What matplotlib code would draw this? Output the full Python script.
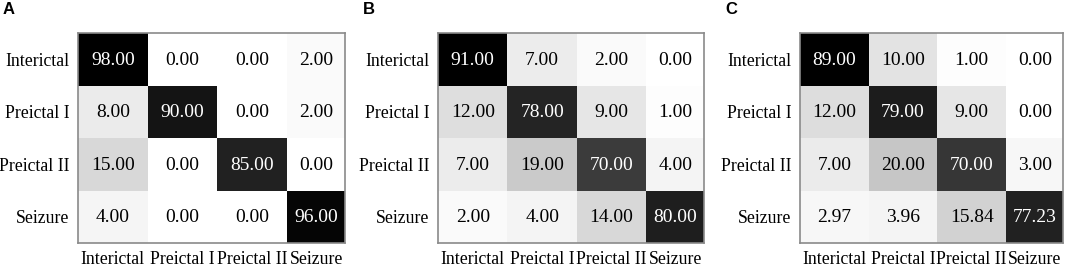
import matplotlib.pyplot as plt
import numpy as np

plt.rcParams["font.family"] = ["Liberation Serif", "DejaVu Serif"]

classes = ["Interictal", "Preictal I", "Preictal II", "Seizure"]
panel_labels = ["A", "B", "C"]

cm_a = np.array([
    [98.00, 0.00, 0.00, 2.00],
    [8.00, 90.00, 0.00, 2.00],
    [15.00, 0.00, 85.00, 0.00],
    [4.00, 0.00, 0.00, 96.00],
])
cm_b = np.array([
    [91.00, 7.00, 2.00, 0.00],
    [12.00, 78.00, 9.00, 1.00],
    [7.00, 19.00, 70.00, 4.00],
    [2.00, 4.00, 14.00, 80.00],
])
cm_c = np.array([
    [89.00, 10.00, 1.00, 0.00],
    [12.00, 79.00, 9.00, 0.00],
    [7.00, 20.00, 70.00, 3.00],
    [2.97, 3.96, 15.84, 77.23],
])
matrices = [cm_a, cm_b, cm_c]

fig = plt.figure(figsize=(10.84, 2.70), dpi=100)

# axes positions in pixels (left, right), shared top/bottom
W, H = 1084, 270
lefts = [78, 438, 800]
rights = [345, 704, 1063]
top, bottom = 33, 243

for i, cm in enumerate(matrices):
    l, r = lefts[i], rights[i]
    ax = fig.add_axes([l / W, 1 - bottom / H, (r - l) / W, (bottom - top) / H])
    ax.pcolormesh(cm, cmap="gray_r", vmin=0, vmax=cm.max(),
                  edgecolors="face", linewidth=0)
    # last column is cut off by the frame in the original figure
    ax.set_xlim(0, 3.83)
    ax.set_ylim(4, 0)
    for y in range(4):
        for x in range(4):
            v = cm[y, x]
            color = "white" if v / cm.max() > 0.5 else "black"
            xp = x + 0.5 if x < 3 else 3.42
            ax.text(xp, y + 0.52, f"{v:.2f}", ha="center",
                    va="center", fontsize=14, color=color)
    ax.set_xticks([0.5, 1.5, 2.5, 3.42])
    ax.set_yticks(np.arange(4) + 0.5)
    ax.set_xticklabels(classes, fontsize=12.8)
    ax.set_yticklabels(classes, fontsize=12.8)
    ax.tick_params(length=0, pad=6)
    for s in ax.spines.values():
        s.set_color("#8a8a8a")
        s.set_linewidth(1.2)
    fig.text((lefts[i] - 75) / W, 1 - 10 / H, panel_labels[i],
             fontsize=12, fontweight="bold", family="Liberation Sans",
             ha="left", va="center")

fig.savefig("out.png", dpi=100)
